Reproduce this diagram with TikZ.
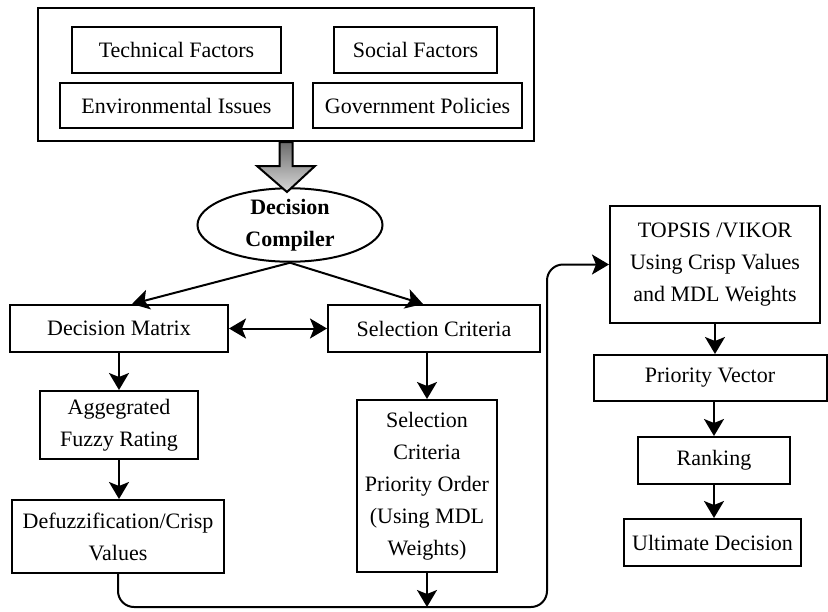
\documentclass[tikz,border=0pt]{standalone}
\usepackage{fontspec}
\setmainfont{Liberation Serif}
\usetikzlibrary{shapes.geometric,arrows.meta}

\begin{document}
\begin{tikzpicture}[x=1pt, y=-1pt,
	font=\fontsize{22}{32}\selectfont,
	box/.style={draw, line width=2pt, inner sep=0pt, align=center},
	tip/.tip={Stealth[length=17pt,width=20pt,inset=4pt]},
	arr/.style={line width=2pt, -tip},
	dblarr/.style={line width=2pt, tip-tip}]

					\useasboundingbox (0,0) rectangle (828,611);

					% factors
					\node [box, minimum width=496, minimum height=133] (factors) at (286,74.5) {};
					\node [box, minimum width=209, minimum height=46] (tech) at (176.5,50) {Technical Factors};
					\node [box, minimum width=163, minimum height=46] (soc) at (415.5,50) {Social Factors};
					\node [box, minimum width=233, minimum height=45] (env) at (176.5,105.5) {Environmental Issues};
					\node [box, minimum width=209, minimum height=45] (gov) at (417.5,105.5) {Government Policies};

					% compiler
					\node [box, ellipse, minimum width=185, minimum height=70, font=\fontsize{22}{32}\selectfont\bfseries] (comp) at (290,225) {Decision\\Compiler};
					\shade [draw, line width=2pt, top color=gray!85!black, bottom color=gray!30] [shift={(factors.south)}] (-6.5,0) -- (6.5,0) -- (6.5,24) -- (29,24) -- (1,50) -- (-29,24) -- (-6.5,24) -- cycle;

					% left column
					\node [box, minimum width=158, minimum height=68] (fuzzy) at (119,425) {Aggegrated\\Fuzzy Rating};
					\node [box, minimum width=218, minimum height=47] (matrix) at (119,328.5) {Decision Matrix};
					\node [box, minimum width=212, minimum height=73] (crisp) at (118,536.5) {Defuzzification/Crisp\\Values};

					% middle column
					\node [box, minimum width=212, minimum height=47] (criteria) at (434,328.5) {Selection Criteria};
					\node [box, minimum width=140, minimum height=172] (order) at (427,486) {Selection\\Criteria\\Priority Order\\(Using MDL\\Weights)};

					% right column
					\node [box, minimum width=210, minimum height=117] (topsis) at (715,264.5) {TOPSIS /VIKOR\\Using Crisp Values\\and MDL Weights};
					\node [box, minimum width=233, minimum height=46] (vector) at (710,378) {Priority Vector};
					\node [box, minimum width=152, minimum height=47] (rank) at (714,460.5) {Ranking};
					\node [box, minimum width=177, minimum height=47] (final) at (712.5,542.5) {Ultimate Decision};

					% arrows
					\draw [arr] (comp.south) -- ([xshift=13pt]matrix.north);
					\draw [arr] (comp.south) -- ([xshift=-11pt]criteria.north);
					\draw [dblarr] (matrix.east) -- (criteria.west);
					\draw [arr] (matrix.south) -- (matrix.south |- fuzzy.north);
					\draw [arr] (fuzzy.south) -- (fuzzy.south |- crisp.north);
					\draw [arr] (order.north |- criteria.south) -- (order.north);

					\coordinate (turn) at (547,607);
					\draw [arr, rounded corners=16pt] (crisp.south) |- (turn) |- (topsis.west);
					\draw [arr] (order.south) -- (order.south |- turn);

					\draw [arr] (topsis.south) -- (topsis.south |- vector.north);
					\draw [arr] (rank.north |- vector.south) -- (rank.north);
					\draw [arr] (rank.south) -- (rank.south |- final.north);

				\end{tikzpicture}
\end{document}
